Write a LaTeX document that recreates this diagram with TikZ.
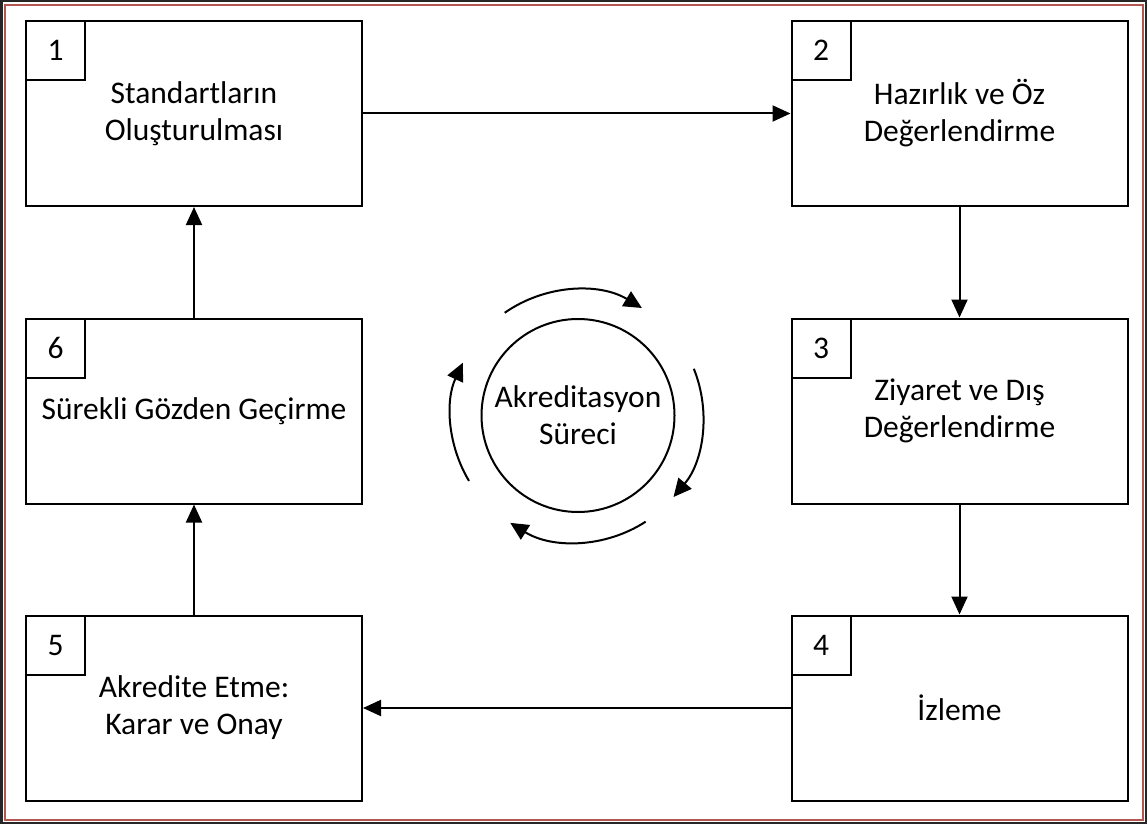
\documentclass[tikz,border=0pt]{standalone}
\usepackage{fontspec}
\setmainfont{Carlito}
\usetikzlibrary{arrows.meta}
\definecolor{framered}{RGB}{178,86,82}
\begin{document}
\begin{tikzpicture}[x=1pt,y=1pt,
  stepbox/.style={draw, line width=2pt, minimum width=336pt, minimum height=185pt, inner sep=0pt, align=center, font=\fontsize{31.5}{37}\selectfont},
  numbox/.style={draw, line width=2pt, minimum width=59pt, minimum height=59pt, inner sep=0pt, anchor=north west, font=\fontsize{31.5}{37}\selectfont},
  conn/.style={line width=2pt, -{Triangle[length=18pt,width=16pt]}},
  cyc/.style={line width=2pt, -{Triangle[length=18pt,width=17pt]}}
]
\useasboundingbox (0,0) rectangle (1147,-824);
\draw[line width=2.5pt, black!85] (1.25,-1.25) rectangle (1145.75,-822.75);
\draw[line width=2pt, framered] (5,-5) rectangle (1143,-820);

\node[stepbox] (b1) at (194,-113.5) {Standartların\\Oluşturulması};
\node[stepbox] (b2) at (959.5,-113.5) {Hazırlık ve Öz\\Değerlendirme};
\node[stepbox] (b3) at (959.5,-411) {Ziyaret ve Dış\\Değerlendirme};
\node[stepbox] (b4) at (959.5,-708) {İzleme};
\node[stepbox] (b5) at (194,-708) {Akredite Etme:\\Karar ve Onay};
\node[stepbox] (b6) at (194,-411) {Sürekli Gözden Geçirme};

\node[numbox] (n1) at (b1.north west) {1};
\node[numbox] (n2) at (b2.north west) {2};
\node[numbox] (n3) at (b3.north west) {3};
\node[numbox] (n4) at (b4.north west) {4};
\node[numbox] (n5) at (b5.north west) {5};
\node[numbox] (n6) at (b6.north west) {6};

\draw[conn] (b1.east) -- (b2.west);
\draw[conn] (b2.south) -- (b3.north);
\draw[conn] (b3.south) -- (b4.north);
\draw[conn] (b4.west) -- (b5.east);
\draw[conn] (b5.north) -- (b6.south);
\draw[conn] (b6.north) -- (b1.south);

\node[draw, circle, line width=2pt, minimum size=193pt, inner sep=0pt, align=center, font=\fontsize{31.5}{37}\selectfont] (c) at (578,-415.5) {Akreditasyon\\Süreci};
\coordinate (o) at (577,-416);
\draw[cyc] ([shift={(125:126)}]o) arc[start angle=125, end angle=59, radius=126];
\draw[cyc] ([shift={(22:126)}]o) arc[start angle=22, end angle=-40, radius=126];
\draw[cyc] ([shift={(-57:126)}]o) arc[start angle=-57, end angle=-122, radius=126];
\draw[cyc] ([shift={(211:126)}]o) arc[start angle=211, end angle=155, radius=126];
\end{tikzpicture}
\end{document}
